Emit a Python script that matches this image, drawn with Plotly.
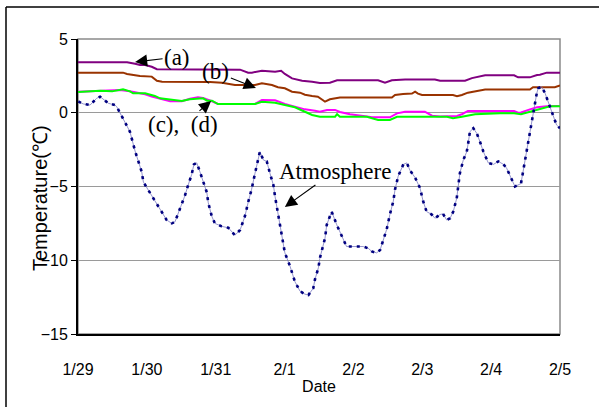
import plotly.graph_objects as go

# ---------------- data (hours from 1/29 00:00) ----------------
tick_hours = [0, 24, 48, 72, 96, 120, 144, 168]
tick_labels = ["1/29", "1/30", "1/31", "2/1", "2/2", "2/3", "2/4", "2/5"]

a_hours = [0, 17.1, 19.9, 21.6, 23.4, 25.7, 27.5, 56.5, 59.3, 60.6, 64.1, 68.7, 70.8, 72.1, 74.6,
           78.1, 81.6, 84.3, 87.8, 90.3, 104.6, 107.0, 109.4, 114.0, 124.4, 126.2, 134.9, 137.3,
           141.9, 152.0, 153.4, 157.5, 160.0, 161.0, 163.4, 168]
a_temp = [3.43, 3.43, 3.32, 3.24, 3.24, 3.12, 2.95, 2.92, 2.72, 2.72, 2.85, 2.78, 2.85, 2.63, 2.33,
          2.17, 2.1, 2.02, 2.04, 2.2, 2.2, 2.04, 2.2, 2.26, 2.26, 2.17, 2.17, 2.35,
          2.54, 2.54, 2.4, 2.4, 2.56, 2.58, 2.72, 2.72]

b_hours = [0, 15.7, 17.1, 19.9, 21.6, 25.7, 27.5, 29.3, 42.5, 46.0, 50.2, 54.7, 61.7, 64.1, 67.6,
           69.7, 72.1, 74.6, 77.4, 79.1, 81.6, 83.6, 85.4, 86.1, 87.8, 89.6, 91.3, 109.4, 110.5,
           113.3, 116.4, 117.5, 118.5, 119.9, 130.7, 132.1, 133.8, 135.9, 139.4, 141.9, 157.5,
           158.6, 166.2, 168]
b_temp = [2.72, 2.72, 2.63, 2.56, 2.49, 2.45, 2.17, 2.1, 2.1, 2.08, 2.04, 1.88, 1.88, 2.0, 1.88,
          1.73, 1.66, 1.43, 1.36, 1.22, 1.14, 1.09, 0.85, 0.75, 0.91, 0.95, 1.03, 1.03, 1.2,
          1.27, 1.3, 1.43, 1.3, 1.2, 1.2, 1.12, 1.2, 1.36, 1.5, 1.57, 1.57,
          1.73, 1.73, 1.85]

c_hours = [0, 7.7, 14.6, 18.1, 23.4, 25.7, 28.6, 32.1, 36.2, 39.0, 41.8, 43.6, 46.7, 48.8, 61.7,
           64.1, 68.7, 72.1, 75.6, 79.1, 82.6, 84.3, 86.8, 89.6, 91.3, 94.8, 100.7, 102.5, 108.7,
           111.2, 114.0, 120.9, 123.4, 126.2, 132.1, 133.8, 135.9, 152.0, 153.4, 154.4, 157.5,
           160.0, 163.4, 168]
c_temp = [1.43, 1.47, 1.54, 1.45, 1.25, 1.1, 0.95, 0.78, 0.78, 0.95, 1.05, 1.0, 0.78, 0.6, 0.6,
          0.86, 0.84, 0.6, 0.41, 0.23, 0.14, 0.07, 0.19, 0.19, 0.05, -0.1, -0.25, -0.31, -0.31,
          -0.04, 0.07, 0.07, -0.2, -0.25, -0.22, -0.1, 0.12, 0.12, 0.0, 0.02, 0.23,
          0.37, 0.44, 0.46]

d_hours = [0, 7.7, 11.9, 15.7, 18.1, 19.2, 23.4, 26.8, 28.6, 32.8, 36.2, 39.0, 41.8, 43.6, 45.0,
           46.7, 48.8, 61.7, 64.1, 68.7, 72.1, 75.6, 79.1, 81.6, 84.3, 89.6, 90.3, 91.3, 100.7,
           104.6, 108.7, 111.2, 128.6, 130.7, 133.8, 138.4, 147.1, 152.0, 154.4, 157.5, 161.0,
           164.5, 168]
d_temp = [1.40, 1.5, 1.45, 1.59, 1.45, 1.32, 1.32, 1.14, 0.98, 0.86, 0.8, 0.91, 0.98, 0.98, 0.82,
          0.82, 0.59, 0.59, 0.75, 0.68, 0.52, 0.37, 0.07, -0.15, -0.27, -0.27, -0.1, -0.27, -0.27,
          -0.49, -0.49, -0.27, -0.27, -0.37, -0.27, -0.1, -0.04, -0.04, -0.1, 0.07, 0.3,
          0.44, 0.44]

atm_hours = [0.1, 1.8, 4.2, 5.3, 6.5, 7.7, 9.4, 10.6, 12.9, 13.5, 18.1, 19.9, 22.2, 22.8, 30.9,
             32.7, 33.8, 36.1, 37.3, 38.4, 39.6, 40.4, 41.4, 42.5, 43.7, 44.9, 45.4, 46.6, 47.7,
             50.1, 52.4, 54.7, 56.5, 58.2, 59.4, 60.5, 61.7, 62.8, 63.4, 64.6, 65.8, 66.9, 68.1,
             68.7, 69.3, 70.4, 71.6, 72.1, 73.9, 75.6, 77.4, 79.1, 80.3, 82.0, 82.6, 83.8, 84.3,
             85.5, 86.1, 86.7, 88.4, 90.2, 91.9, 93.6, 99.4, 101.2, 102.4, 104.1, 105.3, 106.4,
             107.6, 108.7, 109.9, 110.5, 111.6, 113.4, 114.6, 115.7, 117.5, 119.2, 120.3, 121.5,
             123.3, 124.4, 126.2, 127.2, 128.5, 129.7, 130.8, 132.0, 132.5, 133.1, 134.3, 135.5,
             136.0, 136.6, 137.8, 139.0, 140.1, 141.3, 143.0, 144.8, 146.5, 148.3, 149.4, 151.2,
             152.3, 154.4, 155.2, 155.8, 157.0, 158.1, 158.7, 159.9, 160.4, 161.6, 162.8, 164.5,
             165.7, 166.8, 168.0]
atm_temp = [0.76, 0.6, 0.52, 0.76, 0.98, 1.09, 0.86, 0.64, 0.52, 0.41, -1.28, -2.6, -4.0, -4.7, -7.27,
            -7.5, -7.4, -6.25, -5.6, -4.9, -4.2, -3.5, -3.4, -4.0, -4.7, -5.4, -6.1, -7.0, -7.5,
            -7.7, -7.8, -8.3, -7.95, -7.0, -6.0, -5.2, -4.1, -3.0, -2.64, -3.2, -3.3, -4.1, -4.9,
            -5.7, -6.4, -7.7, -8.85, -9.5, -10.4, -11.45, -12.1, -12.3, -12.36, -11.9, -11.3, -10.5, -9.86,
            -9.07, -8.5, -7.6, -6.7, -7.6, -8.4, -9.07, -9.07, -9.2, -9.4, -9.5, -9.3, -8.7,
            -7.9, -6.9, -6.0, -5.2, -4.3, -3.5, -3.4, -3.9, -4.4, -5.1, -6.0, -6.7,
            -6.9, -7.15, -6.9, -6.85, -7.27, -7.15, -6.7, -5.8, -5.0, -4.1, -3.2, -2.64,
            -2.07, -1.28, -1.05, -1.4, -1.96, -2.64, -3.4, -3.5, -3.3, -3.5, -3.76, -4.55,
            -5.0, -4.8, -3.9, -3.1, -1.84, -0.71, 0.19, 1.32, 1.66, 1.77, 1.32, 0.41,
            -0.27, -0.83, -1.05]

y_ticks = [5, 0, -5, -10, -15]

# ---------------- figure ----------------
fig = go.Figure()

fig.add_trace(go.Scatter(x=a_hours, y=a_temp, mode="lines",
                         line=dict(color="#800080", width=2), hoverinfo="skip"))
fig.add_trace(go.Scatter(x=b_hours, y=b_temp, mode="lines",
                         line=dict(color="#993300", width=2), hoverinfo="skip"))
fig.add_trace(go.Scatter(x=c_hours, y=c_temp, mode="lines",
                         line=dict(color="#FF00FF", width=2), hoverinfo="skip"))
fig.add_trace(go.Scatter(x=d_hours, y=d_temp, mode="lines",
                         line=dict(color="#00FF00", width=2), hoverinfo="skip"))
# atmosphere: thin pale line + heavy dashes
fig.add_trace(go.Scatter(x=atm_hours, y=atm_temp, mode="lines",
                         line=dict(color="#7a7ac0", width=0.8), hoverinfo="skip"))
fig.add_trace(go.Scatter(x=atm_hours, y=atm_temp, mode="lines",
                         line=dict(color="#000080", width=2.6, dash="3px,5px"), hoverinfo="skip"))

W, H = 599, 407
PX_L, PX_R, PX_T, PX_B = 78, 560, 39, 334

fig.update_layout(
    width=W, height=H,
    margin=dict(l=PX_L, r=W - PX_R, t=PX_T, b=H - PX_B),
    paper_bgcolor="white", plot_bgcolor="white",
    showlegend=False,
    font=dict(family="Liberation Sans, Arial, sans-serif", color="#000000"),
    xaxis=dict(range=[0, 168], tickvals=tick_hours, ticktext=tick_labels,
               showgrid=False, zeroline=False, showline=True, linecolor="#000000", linewidth=2,
               ticks="outside", ticklen=20, tickcolor="rgba(0,0,0,0)",
               tickfont=dict(size=16, family="Liberation Sans, Arial, sans-serif"),
               title=dict(text="Date", font=dict(size=16), standoff=4)),
    yaxis=dict(range=[-15, 5], tickvals=y_ticks, showgrid=True, gridcolor="#9a9a9a", gridwidth=1,
               zeroline=False, showline=True, linecolor="#000000", linewidth=2,
               ticks="outside", ticklen=5, tickcolor="#000000", tickwidth=1,
               tickfont=dict(size=16, family="Liberation Sans, Arial, sans-serif")),
)

# plot-area border (top/right in gray)
fig.add_shape(type="rect", xref="paper", yref="paper", x0=0, x1=1, y0=0, y1=1,
              line=dict(color="#8a8a8a", width=1.5), layer="below")
# outer chart frame: only left and top edges fall on the canvas
fx0 = (6 - PX_L) / (PX_R - PX_L)
fy1 = (PX_B - 7) / (PX_B - PX_T)
fig.add_shape(type="line", xref="paper", yref="paper", x0=fx0, x1=1.2, y0=fy1, y1=fy1,
              line=dict(color="#000000", width=1.5))
fig.add_shape(type="line", xref="paper", yref="paper", x0=fx0, x1=fx0, y0=-0.5, y1=fy1,
              line=dict(color="#000000", width=1.5))

# y-axis title
fig.add_annotation(text="Temperature(℃)", xref="paper", yref="paper",
                   x=(27 - PX_L) / (PX_R - PX_L), y=(PX_B - 198) / (PX_B - PX_T),
                   textangle=-90, showarrow=False,
                   font=dict(size=20, family="Liberation Sans, Arial, sans-serif"))

serif = dict(size=23, family="Liberation Serif, Times New Roman, serif", color="#000000")
arrow = dict(showarrow=True, arrowhead=2, arrowsize=2.2, arrowwidth=1.1, arrowcolor="#000000")

fig.add_annotation(text="(a)", x=19.9, y=3.44, ax=42, ay=-5, font=serif, **arrow)
fig.add_annotation(text="(b)", x=62.0, y=1.68, ax=-40, ay=-16, font=serif, **arrow)
fig.add_annotation(text="(c),  (d)", x=46.4, y=0.8, ax=-28, ay=24, font=serif, **arrow)
fig.add_annotation(text="Atmosphere", x=72.1, y=-6.39, ax=50, ay=-36, font=serif, **arrow)

fig.write_html("out.html", config={"displayModeBar": False},
               post_script="document.body.style.margin='0';document.body.style.overflow='hidden';"
                           "document.documentElement.style.overflow='hidden';")
